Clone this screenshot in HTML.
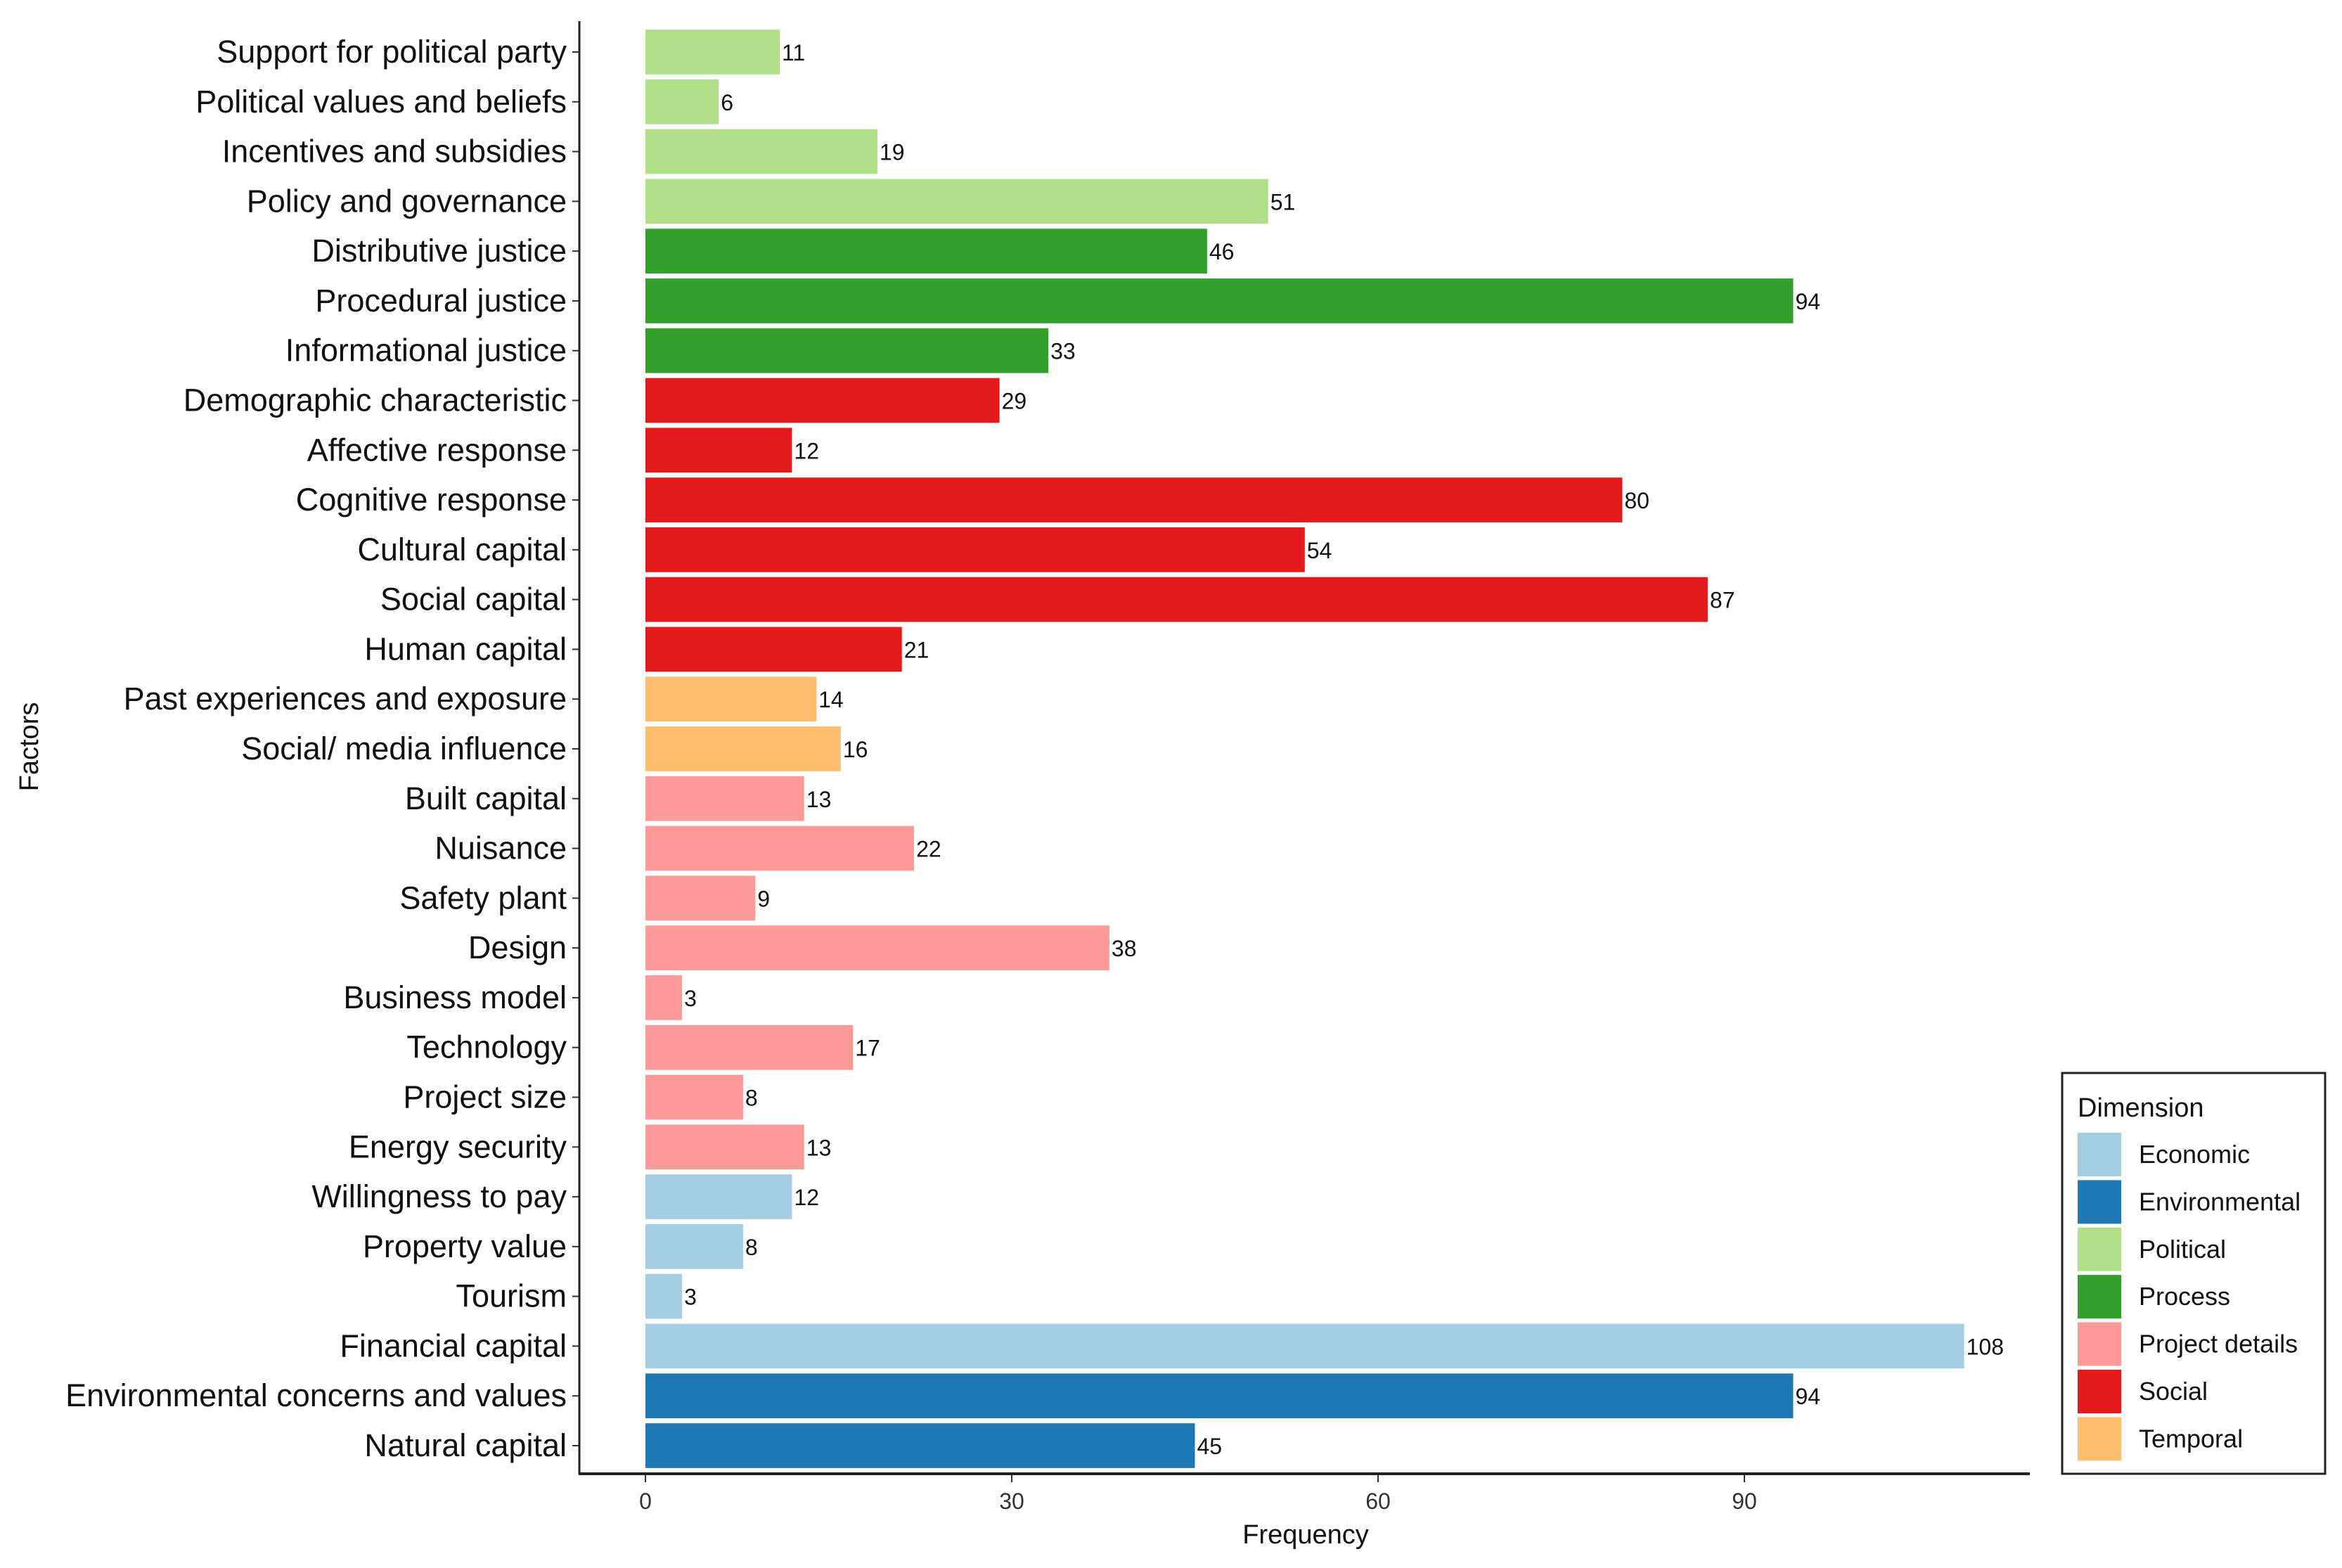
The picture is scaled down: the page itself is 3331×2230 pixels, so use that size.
<!DOCTYPE html>
<html><head><meta charset="utf-8"><style>
html,body{margin:0;padding:0;background:#fff;}
svg{display:block;font-family:"Liberation Sans",Arial,sans-serif;}
</style></head><body>
<svg id="chart" width="3331" height="2230" viewBox="0 0 3331 2230" xmlns="http://www.w3.org/2000/svg">
<rect width="3331" height="2230" fill="#fff"/>
<g id="bars"></g>
<g id="ylabels"></g>
<g id="xaxis"></g>
<line x1="824" y1="30" x2="824" y2="2097" stroke="#222" stroke-width="3"/>
<line x1="823" y1="2096" x2="2887" y2="2096" stroke="#222" stroke-width="4"/>
<text x="1857" y="2195" font-size="38" text-anchor="middle" fill="#111">Frequency</text>
<text x="54" y="1062" font-size="38" text-anchor="middle" fill="#111" transform="rotate(-90 54 1062)">Factors</text>
<g id="legend">
<rect x="2933" y="1526" width="374" height="570" fill="#fff" stroke="#222" stroke-width="3"/>
<text x="2955" y="1588" font-size="38" fill="#111">Dimension</text>
</g>
</svg>
<script>
const categories = ["Support for political party","Political values and beliefs","Incentives and subsidies","Policy and governance","Distributive justice","Procedural justice","Informational justice","Demographic characteristic","Affective response","Cognitive response","Cultural capital","Social capital","Human capital","Past experiences and exposure","Social/ media influence","Built capital","Nuisance","Safety plant","Design","Business model","Technology","Project size","Energy security","Willingness to pay","Property value","Tourism","Financial capital","Environmental concerns and values","Natural capital"];
const values = [11,6,19,51,46,94,33,29,12,80,54,87,21,14,16,13,22,9,38,3,17,8,13,12,8,3,108,94,45];
const dimensions = ["Political","Political","Political","Political","Process","Process","Process","Social","Social","Social","Social","Social","Social","Temporal","Temporal","Project details","Project details","Project details","Project details","Project details","Project details","Project details","Project details","Economic","Economic","Economic","Economic","Environmental","Environmental"];
const legendNames = ["Economic","Environmental","Political","Process","Project details","Social","Temporal"];
const legendColors = ["#a6cee3","#1f78b4","#b2df8a","#33a02c","#fb9a99","#e31a1c","#fdbf6f"];
const xTicks = [0,30,60,90];

const NS="http://www.w3.org/2000/svg";
const x0=918, unit=(2481-918)/90;
const xs=v=>x0+v*unit;
const yTop=74, yBot=2056;
const step=(yBot-yTop)/(categories.length-1);
const ys=i=>yTop+i*step;
const barH=step*0.9;
function mk(t,a,p){const e=document.createElementNS(NS,t);for(const k in a)e.setAttribute(k,a[k]);p.appendChild(e);return e;}
const gb=document.getElementById('bars'), gl=document.getElementById('ylabels'), gx=document.getElementById('xaxis'), lg=document.getElementById('legend');
categories.forEach((c,i)=>{
  const col=legendColors[legendNames.indexOf(dimensions[i])];
  const r=mk('rect',{x:xs(0),y:ys(i)-barH/2,width:xs(values[i])-xs(0),height:barH,fill:col},gb);
  
  
  const v=mk('text',{x:xs(values[i])+3,y:ys(i)+12,'font-size':32,fill:'#111'},gb);
  v.textContent=values[i];
  
  
  const t=mk('text',{x:806,y:ys(i)+15,'font-size':45,'text-anchor':'end',fill:'#111'},gl);
  t.textContent=c;
  
  
  const tk=mk('line',{x1:814,x2:824,y1:ys(i),y2:ys(i),stroke:'#333','stroke-width':2},gl);
  
  
});
xTicks.forEach(v=>{
  const l=mk('line',{x1:xs(v),x2:xs(v),y1:2096,y2:2108,stroke:'#333','stroke-width':2},gx);
  
  
  const t=mk('text',{x:xs(v),y:2146,'font-size':32,'text-anchor':'middle',fill:'#333'},gx);
  t.textContent=v;
  
  
});
legendNames.forEach((n,i)=>{
  const y=1642+i*67.4;
  const r=mk('rect',{x:2955,y:y-31,width:62,height:62,fill:legendColors[i]},lg);
  
  
  const t=mk('text',{x:3042,y:y+12,'font-size':36,fill:'#111'},lg);
  t.textContent=n;
  
  
});
</script>
</body></html>
